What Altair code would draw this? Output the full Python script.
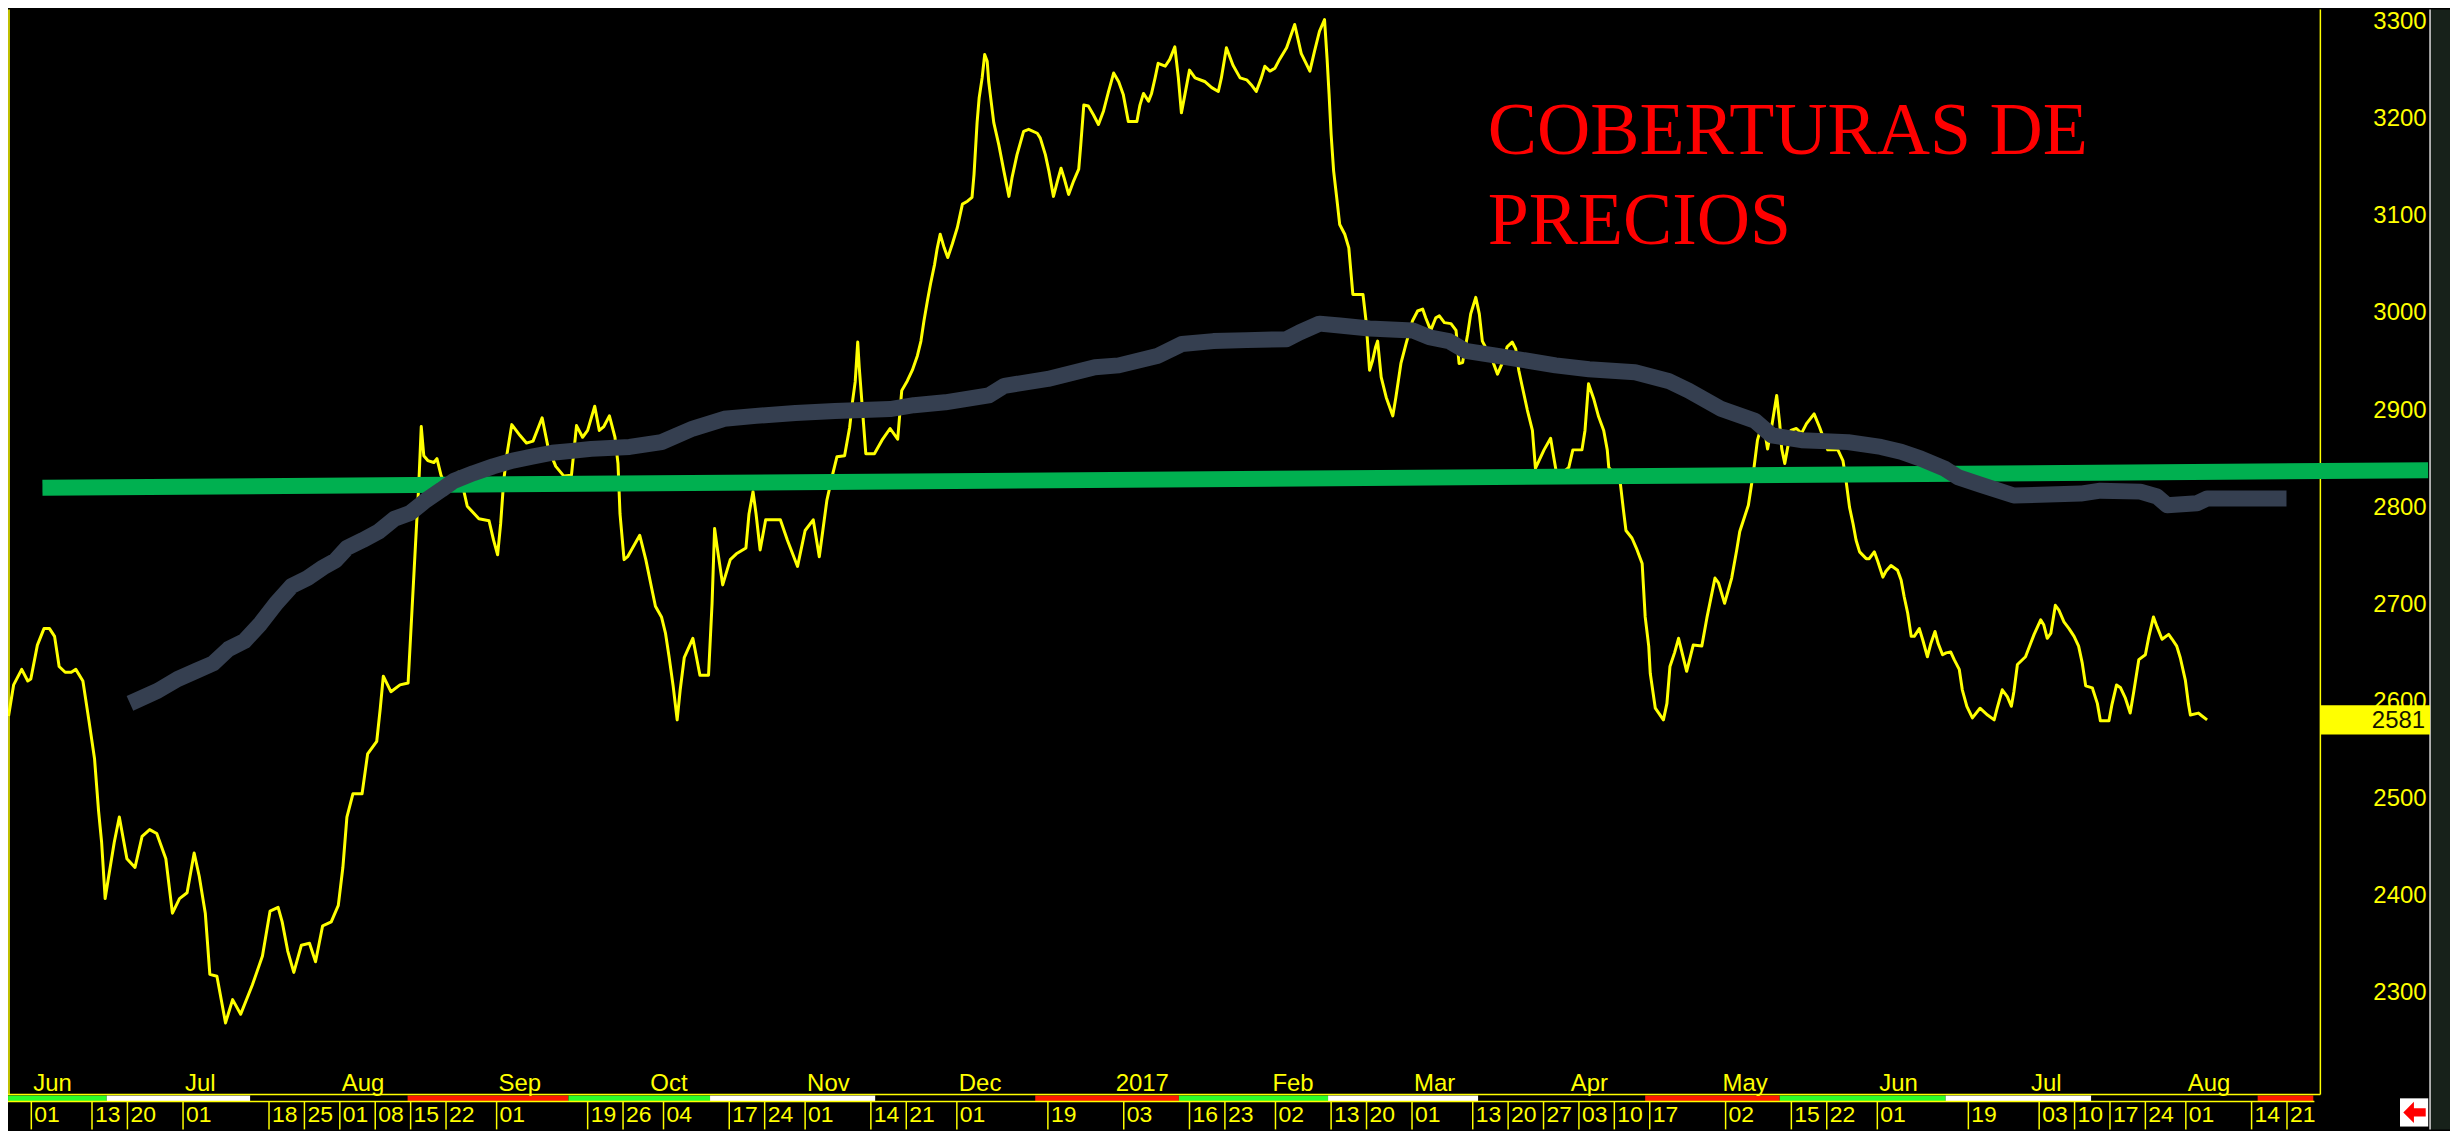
import altair as alt
import pandas as pd

# ---------------- data ----------------
BASE = "2016-06-01"   # day offsets below are counted from this date

# price series: (day offset from BASE, price)
price_points = [
    (-4.5, 2585), (-3.5, 2617), (-1.9, 2633), (-0.7, 2621), (-0.1, 2623), (1.2, 2658), (2.5, 2675), (3.6, 2675),
    (4.6, 2667), (5.5, 2636), (6.7, 2630), (7.9, 2630), (8.8, 2633), (10.2, 2621), (11.4, 2580), (12.5, 2541),
    (13.3, 2487), (13.9, 2455), (14.6, 2397), (15.3, 2420), (16.4, 2455), (17.4, 2481), (18.9, 2438), (20.5, 2429),
    (21.9, 2461), (23.4, 2468), (24.8, 2464), (26.6, 2438), (27.9, 2382), (29.3, 2397), (30.8, 2403), (32.2, 2444),
    (33.2, 2420), (34.4, 2382), (35.3, 2319), (36.7, 2317), (38.4, 2269), (39.8, 2293), (41.4, 2278), (43.7, 2308),
    (45.7, 2338), (47.2, 2384), (48.8, 2388), (49.6, 2373), (50.7, 2343), (51.9, 2321), (53.4, 2349), (55.0, 2351),
    (56.2, 2332), (57.6, 2369), (59.3, 2373), (60.7, 2390), (61.6, 2429), (62.4, 2481), (63.6, 2505), (65.4, 2505),
    (66.5, 2546), (68.3, 2559), (69.0, 2593), (69.6, 2626), (71.1, 2610), (72.9, 2617), (74.5, 2619), (75.3, 2697),
    (75.7, 2736), (76.1, 2775), (76.6, 2822), (77.1, 2883), (77.6, 2853), (78.4, 2848), (79.6, 2846), (80.2, 2850),
    (81.0, 2833), (81.9, 2822), (83.5, 2824), (84.4, 2836), (85.2, 2824), (86.2, 2801), (88.5, 2788), (90.5, 2786),
    (91.4, 2766), (92.2, 2751), (92.8, 2783), (93.4, 2827), (94.0, 2853), (95.0, 2885), (96.6, 2874), (97.9, 2866),
    (99.2, 2868), (101.0, 2892), (102.2, 2861), (103.7, 2842), (105.3, 2832), (106.8, 2833), (107.8, 2884), (109.0, 2872),
    (110.0, 2879), (111.4, 2904), (112.3, 2879), (113.2, 2883), (114.3, 2894), (115.4, 2872), (116.0, 2845), (116.4, 2793),
    (117.2, 2746), (117.9, 2749), (120.3, 2771), (121.5, 2746), (122.6, 2718), (123.4, 2698), (124.6, 2687), (125.4, 2670),
    (126.1, 2646), (126.9, 2616), (127.7, 2581), (128.3, 2612), (129.1, 2645), (130.8, 2665), (132.2, 2627), (133.9, 2627),
    (134.6, 2701), (135.1, 2778), (135.6, 2759), (136.7, 2720), (138.2, 2746), (139.4, 2752), (141.3, 2758), (141.9, 2793),
    (142.7, 2816), (143.3, 2793), (144.1, 2756), (145.2, 2787), (148.1, 2787), (149.5, 2766), (151.5, 2739), (153.0, 2776),
    (154.6, 2787), (155.8, 2749), (156.5, 2776), (157.3, 2807), (158.5, 2835), (159.3, 2852), (160.8, 2853), (161.8, 2882),
    (162.4, 2910), (162.9, 2929), (163.4, 2970), (163.7, 2944), (164.2, 2910), (165.0, 2855), (166.7, 2855), (168.2, 2869),
    (169.8, 2881), (171.3, 2870), (172.1, 2920), (173.2, 2930), (174.2, 2941), (175.2, 2956), (175.9, 2971), (176.5, 2992),
    (177.2, 3013), (177.8, 3030), (178.6, 3050), (179.1, 3066), (179.7, 3081), (180.5, 3067), (181.2, 3057), (182.1, 3071),
    (183.1, 3088), (184.1, 3112), (185.1, 3115), (186.0, 3119), (186.4, 3143), (187.0, 3196), (187.4, 3221), (188.0, 3242),
    (188.5, 3266), (189.0, 3259), (189.3, 3238), (190.3, 3196), (191.3, 3173), (192.3, 3146), (193.3, 3120), (193.9, 3139),
    (194.9, 3163), (196.2, 3187), (197.2, 3189), (198.9, 3185), (199.5, 3180), (200.5, 3163), (201.2, 3146), (202.1, 3120),
    (202.9, 3136), (203.6, 3149), (204.2, 3139), (205.1, 3122), (206.1, 3136), (207.1, 3148), (207.5, 3173), (208.1, 3214),
    (209.0, 3213), (210.0, 3204), (211.0, 3194), (212.0, 3208), (213.0, 3228), (214.0, 3247), (215.0, 3238), (215.9, 3225),
    (216.9, 3197), (218.6, 3197), (219.2, 3214), (219.9, 3226), (220.9, 3218), (221.5, 3226), (222.2, 3242), (222.8, 3257),
    (224.2, 3254), (225.1, 3261), (226.1, 3274), (226.8, 3242), (227.4, 3206), (228.1, 3225), (229.0, 3250), (230.1, 3242),
    (232.1, 3238), (233.4, 3232), (234.7, 3228), (235.3, 3242), (236.3, 3273), (237.6, 3255), (239.0, 3242), (240.3, 3240),
    (241.2, 3235), (242.2, 3228), (243.2, 3242), (243.9, 3254), (244.9, 3249), (245.9, 3252), (246.8, 3261), (248.2, 3273),
    (249.8, 3297), (251.1, 3267), (252.8, 3249), (253.7, 3269), (254.7, 3290), (255.7, 3302), (256.2, 3262), (256.6, 3225),
    (257.0, 3184), (257.5, 3146), (258.1, 3119), (258.7, 3091), (259.7, 3081), (260.5, 3067), (261.3, 3019), (263.3, 3019),
    (263.9, 2992), (264.6, 2941), (265.2, 2951), (265.8, 2965), (266.2, 2971), (266.9, 2934), (267.9, 2913), (269.2, 2894),
    (269.8, 2913), (270.8, 2948), (271.8, 2968), (273.1, 2992), (274.1, 3002), (275.1, 3004), (275.7, 2995), (276.7, 2982),
    (277.7, 2995), (278.4, 2997), (279.4, 2990), (280.7, 2989), (281.7, 2982), (282.3, 2948), (283.0, 2949), (284.0, 2978),
    (284.6, 2999), (285.6, 3016), (286.3, 2999), (286.9, 2971), (288.9, 2951), (289.9, 2937), (290.9, 2949), (291.8, 2965),
    (292.8, 2970), (293.5, 2963), (294.1, 2941), (294.8, 2924), (295.8, 2900), (296.8, 2879), (297.4, 2840), (299.1, 2859),
    (300.4, 2871), (301.0, 2852), (301.7, 2831), (304.0, 2841), (304.8, 2859), (306.6, 2859), (307.2, 2879), (307.9, 2927),
    (308.9, 2912), (309.9, 2893), (310.9, 2879), (311.6, 2859), (311.9, 2841), (312.9, 2835), (314.2, 2824), (314.8, 2797),
    (315.3, 2776), (316.5, 2768), (317.5, 2756), (318.5, 2742), (319.1, 2687), (319.8, 2657), (320.1, 2629), (321.1, 2593),
    (322.7, 2581), (323.4, 2598), (324.0, 2636), (324.9, 2650), (325.7, 2665), (326.5, 2648), (327.3, 2631), (328.6, 2658),
    (330.3, 2657), (331.3, 2686), (332.9, 2727), (333.6, 2722), (334.8, 2701), (336.2, 2727), (337.2, 2756), (337.8, 2775),
    (339.5, 2802), (340.5, 2836), (341.3, 2869), (342.4, 2889), (343.3, 2860), (344.2, 2886), (345.1, 2915), (345.7, 2886),
    (346.1, 2860), (346.7, 2845), (347.4, 2865), (347.9, 2879), (349.0, 2881), (350.0, 2876), (351.0, 2886), (352.5, 2896),
    (353.6, 2882), (355.2, 2859), (357.2, 2859), (358.2, 2848), (358.8, 2828), (359.5, 2800), (360.2, 2783), (360.8, 2766),
    (361.5, 2754), (362.8, 2747), (363.4, 2747), (364.4, 2754), (365.1, 2744), (366.1, 2728), (366.7, 2734), (367.7, 2740),
    (369.0, 2735), (369.7, 2725), (370.3, 2708), (371.0, 2691), (371.7, 2667), (372.3, 2667), (373.3, 2675), (374.0, 2663),
    (374.9, 2646), (375.6, 2660), (376.4, 2672), (377.0, 2660), (377.9, 2648), (378.6, 2650), (379.5, 2651), (380.2, 2643),
    (381.2, 2633), (381.8, 2612), (382.7, 2595), (383.8, 2583), (385.3, 2593), (386.8, 2586), (388.1, 2581), (388.7, 2593),
    (389.7, 2612), (390.7, 2605), (391.5, 2595), (392.0, 2610), (392.7, 2638), (394.3, 2646), (396.0, 2669), (397.3, 2684),
    (397.9, 2679), (398.6, 2665), (399.3, 2670), (399.8, 2686), (400.2, 2699), (400.9, 2694), (401.9, 2682), (402.9, 2675),
    (403.9, 2667), (404.8, 2657), (405.5, 2640), (406.2, 2616), (407.5, 2614), (408.5, 2598), (409.1, 2580), (410.8, 2580),
    (411.4, 2597), (412.3, 2617), (413.1, 2614), (414.0, 2604), (415.0, 2588), (415.7, 2610), (416.7, 2643), (418.0, 2648),
    (418.7, 2667), (419.6, 2687), (420.3, 2677), (421.3, 2664), (422.6, 2669), (423.3, 2664), (424.2, 2657), (424.9, 2645),
    (425.9, 2622), (426.5, 2598), (426.9, 2586), (428.5, 2588), (429.2, 2585), (430.2, 2581),
]

# moving average: (day offset, value)
ma_points = [
    (19.5, 2598), (25.0, 2611), (28.9, 2623), (32.8, 2632), (35.9, 2639), (39.0, 2654), (42.1, 2662), (45.3, 2680),
    (48.4, 2701), (51.5, 2719), (54.6, 2727), (57.7, 2738), (60.1, 2745), (62.4, 2758), (65.5, 2766), (68.7, 2775),
    (71.8, 2788), (74.9, 2794), (78.0, 2807), (81.1, 2818), (83.5, 2827), (87.4, 2835), (91.3, 2842), (95.2, 2848),
    (99.0, 2852), (103.0, 2856), (106.9, 2858), (110.7, 2860), (118.3, 2862), (124.6, 2867), (130.8, 2881), (137.0, 2891),
    (143.3, 2894), (151.1, 2897), (158.9, 2899), (169.8, 2901), (174.5, 2905), (180.7, 2908), (189.3, 2915), (192.4, 2925),
    (201.0, 2932), (210.3, 2944), (215.0, 2946), (222.8, 2956), (227.5, 2968), (233.7, 2971), (240.3, 2972), (248.2, 2973),
    (250.8, 2980), (254.7, 2989), (258.7, 2987), (264.6, 2984), (273.1, 2982), (276.4, 2975), (280.3, 2971), (283.6, 2961),
    (290.9, 2955), (301.4, 2946), (308.0, 2942), (317.1, 2939), (323.7, 2930), (327.7, 2920), (334.2, 2901), (340.8, 2889),
    (344.1, 2874), (350.0, 2869), (359.2, 2867), (365.7, 2862), (369.7, 2857), (373.6, 2850), (378.2, 2840), (380.9, 2831),
    (385.5, 2823), (392.0, 2812), (405.2, 2814), (409.1, 2817), (417.0, 2816), (420.3, 2811), (422.3, 2802), (428.2, 2804),
    (430.2, 2809), (445.9, 2809),
]

# trend line end points
trend_day = [2.2, 473.9]
trend_val = [2820, 2838]

# axis texts
y_ticks = [2300, 2400, 2500, 2600, 2700, 2800, 2900, 3000, 3100, 3200, 3300]
month_labels = ["Jun", "Jul", "Aug", "Sep", "Oct", "Nov", "Dec", "2017",
                "Feb", "Mar", "Apr", "May", "Jun", "Jul", "Aug"]
month_dates = ["2016-06-01", "2016-07-01", "2016-08-01", "2016-09-01", "2016-10-01",
               "2016-11-01", "2016-12-01", "2017-01-01", "2017-02-01", "2017-03-01",
               "2017-04-01", "2017-05-01", "2017-06-01", "2017-07-01", "2017-08-01"]
tick_dates = ["2016-06-01", "2016-06-13", "2016-06-20", "2016-07-01", "2016-07-18", "2016-07-25",
              "2016-08-01", "2016-08-08", "2016-08-15", "2016-08-22", "2016-09-01", "2016-09-19",
              "2016-09-26", "2016-10-04", "2016-10-17", "2016-10-24", "2016-11-01", "2016-11-14",
              "2016-11-21", "2016-12-01", "2016-12-19", "2017-01-03", "2017-01-16", "2017-01-23",
              "2017-02-02", "2017-02-13", "2017-02-20", "2017-03-01", "2017-03-13", "2017-03-20",
              "2017-03-27", "2017-04-03", "2017-04-10", "2017-04-17", "2017-05-02", "2017-05-15",
              "2017-05-22", "2017-06-01", "2017-06-19", "2017-07-03", "2017-07-10", "2017-07-17",
              "2017-07-24", "2017-08-01", "2017-08-14", "2017-08-21"]

# coloured period strip below the plot (boundaries as day offsets)
strip_edges = [-4.6, 14.9, 43.3, 74.4, 106.2, 134.2, 166.9, 198.5, 226.9, 256.4,
               286.1, 319.1, 345.7, 378.5, 407.3, 440.2, 451.2]
strip_cycle = ["#2BFF2B", "#FFFFFF", "#000000", "#FF1A00"]

title_lines = ["COBERTURAS DE", "PRECIOS"]

# ---------------- helpers ----------------
DAY_MS = 86400000
BASE_MS = int(pd.Timestamp(BASE, tz="UTC").value // 10**6)


def day_ms(d):
    return int(BASE_MS + d * DAY_MS)


def date_ms(s):
    return int(pd.Timestamp(s, tz="UTC").value // 10**6)


W, H = 2319, 1088
YELLOW = "#FFFF00"

xs = alt.Scale(type="utc", domain=[day_ms(-4.61), day_ms(452.6)])
ys = alt.Scale(domain=[2195.3, 3312.3], nice=False, zero=False)
yaxis = alt.Axis(orient="right", values=y_ticks, format="d", labelColor=YELLOW, labelFont="Liberation Sans",
                 labelFontSize=24, labelAlign="right", labelBaseline="middle", labelPadding=106,
                 ticks=False, tickSize=0, domain=False, grid=False, title=None,
                 labelOverlap=False, labelFlush=False, labelBound=False)


def X(field="t"):
    return alt.X(f"{field}:T", scale=xs, axis=None)


def Y(field="v"):
    return alt.Y(f"{field}:Q", scale=ys, axis=yaxis)


price_df = pd.DataFrame({"t": [day_ms(d) for d, _ in price_points], "v": [v for _, v in price_points]})
ma_df = pd.DataFrame({"t": [day_ms(d) for d, _ in ma_points], "v": [v for _, v in ma_points]})
trend_df = pd.DataFrame({"t": [day_ms(d) for d in trend_day], "v": trend_val})
month_df = pd.DataFrame({"t": [date_ms(s) for s in month_dates], "label": month_labels})
tick_df = pd.DataFrame({"t": [date_ms(s) for s in tick_dates], "label": [s[-2:] for s in tick_dates]})
strip_df = pd.DataFrame({
    "t": [day_ms(d) for d in strip_edges[:-1]],
    "t2": [day_ms(d) for d in strip_edges[1:]],
    "c": [strip_cycle[i % 4] for i in range(len(strip_edges) - 1)],
})
last_price = price_points[-1][1]
tag_df = pd.DataFrame({"v": [last_price + 15], "v2": [last_price - 15], "vm": [last_price - 1.5],
                       "label": [str(last_price)]})
one = pd.DataFrame({"k": [0]})

# ---------------- layers ----------------
layers = []

# right-hand dark texture strip and white separator
layers.append(alt.Chart(one).mark_rect(color="#17211A").encode(
    x=alt.value(2430), x2=alt.value(2452), y=alt.value(0), y2=alt.value(1123)))
layers.append(alt.Chart(one).mark_rule(color="#DDDDDD", strokeWidth=1.5).encode(
    x=alt.value(2429), y=alt.value(0), y2=alt.value(1123)))

# period strip
layers.append(alt.Chart(strip_df).mark_rect().encode(
    x=X("t"), x2="t2", y=alt.value(1089), y2=alt.value(1094.5),
    color=alt.Color("c:N", scale=None)))

# frame lines
for x1, x2, y1 in [(0, W, 1088), (0, W - 6, 1095)]:
    layers.append(alt.Chart(one).mark_rule(color=YELLOW, strokeWidth=1.5).encode(
        x=alt.value(x1), x2=alt.value(x2), y=alt.value(y1)))
for xv in [1, W]:
    layers.append(alt.Chart(one).mark_rule(color=YELLOW, strokeWidth=1.5).encode(
        x=alt.value(xv), y=alt.value(0), y2=alt.value(1088)))

# day ticks and labels
layers.append(alt.Chart(tick_df).mark_rule(color=YELLOW, strokeWidth=1.5).encode(
    x=X("t"), y=alt.value(1095), y2=alt.value(1123)))
layers.append(alt.Chart(tick_df).mark_text(
    color=YELLOW, font="Liberation Sans", fontSize=23, align="left", baseline="alphabetic", dx=3
).encode(x=X("t"), y=alt.value(1116), text="label:N"))

# month labels (inside the plot, above the bottom frame)
layers.append(alt.Chart(month_df).mark_text(
    color=YELLOW, font="Liberation Sans", fontSize=24, align="left", baseline="alphabetic", dx=2
).encode(x=X("t"), y=alt.value(1084), text="label:N"))

# title
for i, line in enumerate(title_lines):
    layers.append(alt.Chart(pd.DataFrame({"label": [line]})).mark_text(
        color="#FF0000", font="Liberation Serif", fontSize=74, align="left", baseline="alphabetic"
    ).encode(x=alt.value(1484), y=alt.value(145 + 90 * i), text="label:N"))

# series
layers.append(alt.Chart(price_df).mark_line(color=YELLOW, strokeWidth=3, strokeJoin="round").encode(
    x=X("t"), y=Y("v")))
layers.append(alt.Chart(trend_df).mark_line(color="#00B050", strokeWidth=16, strokeCap="butt").encode(
    x=X("t"), y=Y("v")))
layers.append(alt.Chart(ma_df).mark_line(color="#353F50", strokeWidth=16, strokeCap="butt",
                                          strokeJoin="round").encode(x=X("t"), y=Y("v")))

# last price tag
layers.append(alt.Chart(tag_df).mark_rect(color=YELLOW).encode(
    x=alt.value(W), x2=alt.value(2429), y=Y("v"), y2="v2"))
layers.append(alt.Chart(tag_df).mark_text(
    color="#151500", font="Liberation Sans", fontSize=24, align="right", baseline="middle"
).encode(x=alt.value(2424), y=Y("vm"), text="label:N"))

# red arrow button, bottom right
layers.append(alt.Chart(one).mark_square(color="#FFFFFF", filled=True, size=800, opacity=1).encode(
    x=alt.value(2413), y=alt.value(1106)))
arrow = "M-1,0 L-0.1,-0.9 L-0.1,-0.35 L0.9,-0.35 L0.9,0.35 L-0.1,0.35 L-0.1,0.9 Z"
layers.append(alt.Chart(one).mark_point(shape=arrow, filled=True, color="#FF0000", size=560, opacity=1).encode(
    x=alt.value(2414), y=alt.value(1106)))

chart = alt.layer(*layers).properties(
    width=W, height=H,
    padding={"left": 0, "top": 0, "right": 130, "bottom": 35},
    autosize=alt.AutoSizeParams(type="none"),
    background="#000000",
).configure_view(strokeWidth=0)

chart.save("out.html", embed_options={"renderer": "svg", "actions": False})
